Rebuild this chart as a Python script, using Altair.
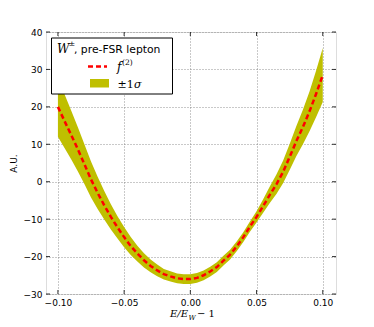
import altair as alt
import pandas as pd

# x = E/E_W - 1
x_vals = [-0.100, -0.095, -0.090, -0.085, -0.080, -0.075, -0.070, -0.065, -0.060, -0.055,
          -0.050, -0.045, -0.040, -0.035, -0.030, -0.025, -0.020, -0.015, -0.010, -0.005,
          0.000, 0.005, 0.010, 0.015, 0.020, 0.025, 0.030, 0.035, 0.040, 0.045,
          0.050, 0.055, 0.060, 0.065, 0.070, 0.075, 0.080, 0.085, 0.090, 0.095, 0.100]
f2_vals = [20.0, 16.2, 12.5, 8.7, 4.7, 0.6, -3.0, -6.3, -9.4, -12.2,
           -14.8, -17.2, -19.2, -21.0, -22.5, -23.7, -24.7, -25.3, -25.8, -26.0,
           -26.0, -25.7, -25.0, -24.0, -22.8, -21.1, -19.5, -17.3, -14.8, -12.0,
           -9.4, -6.5, -3.5, -0.7, 2.6, 6.6, 10.8, 14.6, 18.8, 23.5, 28.5]
sigma_vals = [8.0, 7.2, 6.5, 5.9, 5.3, 4.8, 4.3, 3.8, 3.4, 3.0,
              2.7, 2.4, 2.1, 1.9, 1.7, 1.55, 1.4, 1.35, 1.3, 1.3,
              1.3, 1.3, 1.3, 1.3, 1.3, 1.3, 1.3, 1.3, 1.3, 1.4,
              1.5, 1.8, 2.2, 2.6, 3.0, 3.5, 4.0, 4.6, 5.3, 6.2, 7.2]
x_ticks = [-0.10, -0.05, 0.00, 0.05, 0.10]
y_ticks = [-30, -20, -10, 0, 10, 20, 30, 40]

W, H = 290, 262
df = pd.DataFrame({"x": x_vals, "f": f2_vals,
                   "lo": [a - s for a, s in zip(f2_vals, sigma_vals)],
                   "hi": [a + s for a, s in zip(f2_vals, sigma_vals)]})
xt = pd.DataFrame({"x": x_ticks})
yt = pd.DataFrame({"lo": y_ticks})
one = pd.DataFrame({"a": [0]})

xscale = alt.Scale(domain=[-0.109, 0.11], nice=False, zero=False)
yscale = alt.Scale(domain=[-30, 40], nice=False, zero=False)

xaxis = alt.Axis(values=x_ticks, title=None, grid=True, ticks=False, domain=False,
                 labelExpr="replace(format(datum.value, '.2f'), '-', '\u2212')",
                 labelFontSize=9, labelPadding=4, labelColor="black", labelFont="DejaVu Sans",
                 gridDash=[1, 2], gridColor="#777", gridWidth=0.8)
yaxis = alt.Axis(values=y_ticks, title="A.U.", grid=True, ticks=False, domain=False,
                 labelExpr="replace(format(datum.value, 'd'), '-', '\u2212')",
                 labelFontSize=9, labelPadding=4, labelColor="black", labelFont="DejaVu Sans",
                 titleFontSize=9, titleFontWeight="normal", titleFont="DejaVu Sans",
                 titleColor="black", titlePadding=5,
                 gridDash=[1, 2], gridColor="#777", gridWidth=0.8)

X = alt.X("x:Q", scale=xscale, axis=xaxis)
Y = alt.Y("lo:Q", scale=yscale, axis=yaxis)

band = alt.Chart(df).mark_area(color="#bfbf00", opacity=1).encode(x=X, y=Y, y2="hi:Q")
line = alt.Chart(df).mark_line(color="red", strokeDash=[5, 3], strokeWidth=2.5).encode(
    x=X, y=alt.Y("f:Q", scale=yscale, axis=yaxis))

tick_b = alt.Chart(xt).mark_rule(color="black", strokeWidth=0.8).encode(
    x=X, y=alt.value(H), y2=alt.value(H - 4))
tick_t = alt.Chart(xt).mark_rule(color="black", strokeWidth=0.8).encode(
    x=X, y=alt.value(0), y2=alt.value(4))
tick_l = alt.Chart(yt).mark_rule(color="black", strokeWidth=0.8).encode(
    y=Y, x=alt.value(0), x2=alt.value(4))
tick_r = alt.Chart(yt).mark_rule(color="black", strokeWidth=0.8).encode(
    y=Y, x=alt.value(W), x2=alt.value(W - 4))

# legend
leg_box = alt.Chart(one).mark_rect(fill="white", stroke="black", strokeWidth=1).encode(
    x=alt.value(5.5), x2=alt.value(126.5), y=alt.value(6), y2=alt.value(62))
leg_line = alt.Chart(one).mark_rule(color="red", strokeDash=[5, 3], strokeWidth=2.5).encode(
    x=alt.value(42), x2=alt.value(61), y=alt.value(34.5))
leg_patch = alt.Chart(one).mark_rect(fill="#bfbf00").encode(
    x=alt.value(44), x2=alt.value(63), y=alt.value(47), y2=alt.value(55.5))

def txt(s, x, y, size, font="DejaVu Sans", style="normal", baseline="alphabetic"):
    return alt.Chart(one).mark_text(text=s, align="left", baseline=baseline, fontSize=size,
                                    font=font, fontStyle=style, color="black").encode(
        x=alt.value(x), y=alt.value(y))

leg_texts = [
    txt("W", 11, 20.5, 12, "DejaVu Serif", "italic"),
    txt("\u00b1", 22.5, 14, 8, "DejaVu Serif"),
    txt(", pre-FSR lepton", 28, 20.5, 10.8),
    txt("f", 71, 38.5, 12, "DejaVu Serif", "italic"),
    txt("(2)", 76, 32.5, 7.5, "DejaVu Serif"),
    txt("\u00b11", 71.5, 55.5, 11, "DejaVu Serif"),
    txt("\u03c3", 88, 55.5, 11, "DejaVu Serif", "italic"),
]
xtitle = [
    txt("E/E", 124, H + 23, 10, "DejaVu Serif", "italic"),
    txt("W", 142.5, H + 26, 7, "DejaVu Serif", "italic"),
    txt("\u2212 1", 151, H + 23, 10, "DejaVu Serif"),
]

chart = alt.layer(band, line, tick_b, tick_t, tick_l, tick_r,
                  leg_box, leg_line, leg_patch, *leg_texts, *xtitle).properties(
    width=W, height=H,
    autosize=alt.AutoSizeParams(type="none"),
    padding={"left": 38, "top": 24, "right": 26, "bottom": 30},
).configure_view(stroke="black", strokeWidth=1.2).configure(background="white")

chart.save("out.html", embed_options={"renderer": "svg", "actions": False})
